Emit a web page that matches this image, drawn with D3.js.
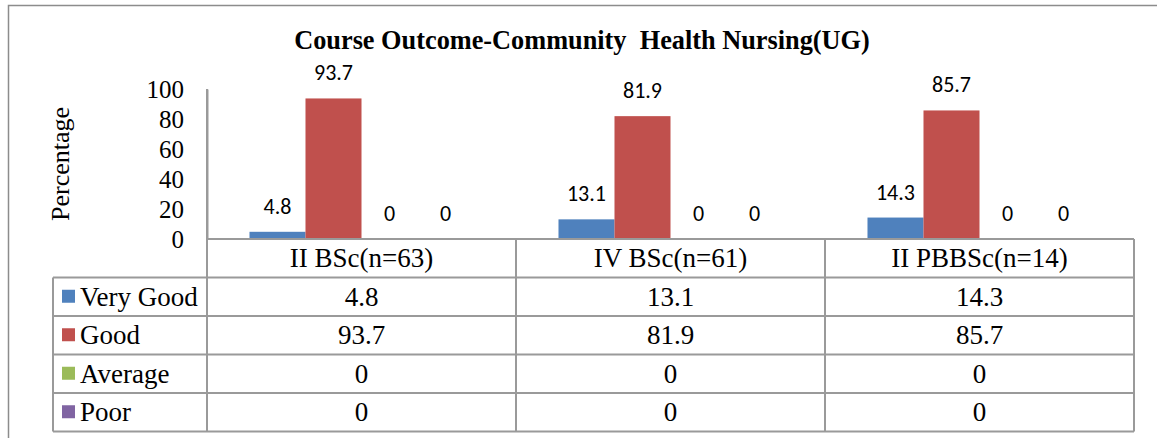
<!DOCTYPE html>
<html>
<head>
<meta charset="utf-8">
<script src="https://cdn.jsdelivr.net/npm/d3@7"></script>
<style>
  html, body { margin: 0; padding: 0; background: #fff; }
  svg { display: block; }
</style>
</head>
<body>
<svg id="chart" width="1157" height="438"></svg>
<script>
const categories = ["II BSc(n=63)", "IV BSc(n=61)", "II PBBSc(n=14)"];
const seriesNames = ["Very Good", "Good", "Average", "Poor"];
const veryGood = [4.8, 13.1, 14.3];
const good = [93.7, 81.9, 85.7];
const average = [0, 0, 0];
const poor = [0, 0, 0];
const yTicks = [0, 20, 40, 60, 80, 100];
const colors = ["#4F81BD", "#C0504D", "#9BBB59", "#8064A2"];

(function () {
const seriesValues = [veryGood, good, average, poor];
const data = categories.map((c, i) => ({
  cat: c,
  vals: seriesNames.map((s, j) => ({ series: s, value: seriesValues[j][i], color: colors[j] }))
}));

const svg = d3.select("#chart");
const serif = "'Liberation Serif', 'Times New Roman', serif";
const sans = "Carlito, 'Open Sans', sans-serif";
const gridCol = "#9a9a9a";

// outer border
svg.append("path")
  .attr("d", "M8.5,440 L8.5,5.5 L1160,5.5")
  .attr("fill", "none").attr("stroke", "#8c8c8c").attr("stroke-width", 1.5);

const pLeft = 207, pRight = 1134, pTop = 89, pBottom = 239;
const rowH = 38.5;
const tableLeft = 53;
const tableFont = 27;

const x0 = d3.scaleBand().domain(categories).range([pLeft, pRight]).paddingInner(0).paddingOuter(0);
const gap = x0.bandwidth() * 0.1375;
const x1 = d3.scaleBand().domain(seriesNames).range([gap, x0.bandwidth() - gap]).padding(0);
const y = d3.scaleLinear().domain([0, 100]).range([pBottom, pTop]);

// title
svg.append("text")
  .attr("x", 582).attr("y", 49)
  .attr("text-anchor", "middle")
  .attr("font-family", serif).attr("font-weight", "bold").attr("font-size", 26.3)
  .style("white-space", "pre")
  .text("Course Outcome-Community  Health Nursing(UG)");

// y axis label
svg.append("text")
  .attr("transform", "translate(69,164) rotate(-90)")
  .attr("text-anchor", "middle")
  .attr("font-family", serif).attr("font-size", 26)
  .text("Percentage");

// y axis
const yAxis = d3.axisLeft(y).tickValues(yTicks).tickSize(0).tickSizeOuter(0).tickPadding(23);
const gy = svg.append("g").attr("transform", `translate(${pLeft},0)`).call(yAxis);
gy.select(".domain").attr("stroke", gridCol).attr("stroke-width", 2);
gy.selectAll(".tick text").attr("font-family", serif).attr("font-size", 25).attr("fill", "#000");

// bars
const groups = svg.append("g").selectAll("g").data(data).join("g")
  .attr("transform", d => `translate(${x0(d.cat)},0)`);
groups.selectAll("rect").data(d => d.vals).join("rect")
  .attr("x", d => x1(d.series))
  .attr("width", x1.bandwidth())
  .attr("y", d => y(d.value))
  .attr("height", d => y(0) - y(d.value))
  .attr("fill", d => d.color);
groups.selectAll("text.lbl").data(d => d.vals).join("text")
  .attr("class", "lbl")
  .attr("x", d => x1(d.series) + x1.bandwidth() / 2)
  .attr("y", d => y(d.value) - 18)
  .attr("text-anchor", "middle")
  .attr("font-family", sans).attr("font-size", 22)
  .text(d => d.value);

// data table
const tbl = svg.append("g");
const rowTop = i => pBottom + rowH * i;
tbl.append("line").attr("x1", pLeft).attr("x2", pRight).attr("y1", pBottom).attr("y2", pBottom)
  .attr("stroke", gridCol).attr("stroke-width", 2);
for (let i = 1; i <= seriesNames.length + 1; i++) {
  tbl.append("line").attr("x1", tableLeft).attr("x2", pRight)
    .attr("y1", rowTop(i)).attr("y2", rowTop(i))
    .attr("stroke", gridCol).attr("stroke-width", 2);
}
tbl.append("line").attr("x1", tableLeft).attr("x2", tableLeft)
  .attr("y1", rowTop(1)).attr("y2", rowTop(seriesNames.length + 1))
  .attr("stroke", gridCol).attr("stroke-width", 2);
categories.forEach(c => {
  tbl.append("line").attr("x1", x0(c)).attr("x2", x0(c))
    .attr("y1", c === categories[0] ? pTop : pBottom).attr("y2", rowTop(seriesNames.length + 1))
    .attr("stroke", gridCol).attr("stroke-width", 2);
});
tbl.append("line").attr("x1", pRight).attr("x2", pRight)
  .attr("y1", pBottom).attr("y2", rowTop(seriesNames.length + 1))
  .attr("stroke", gridCol).attr("stroke-width", 2);

categories.forEach(c => {
  tbl.append("text")
    .attr("x", x0(c) + x0.bandwidth() / 2).attr("y", rowTop(0) + rowH / 2 + 9)
    .attr("text-anchor", "middle")
    .attr("font-family", serif).attr("font-size", tableFont)
    .text(c);
});
seriesNames.forEach((s, j) => {
  const cy = rowTop(j + 1) + rowH / 2;
  tbl.append("rect").attr("x", 62).attr("y", cy - 7).attr("width", 13).attr("height", 13)
    .attr("fill", colors[j]);
  tbl.append("text").attr("x", 80).attr("y", cy + 9)
    .attr("font-family", serif).attr("font-size", tableFont)
    .text(s);
  categories.forEach((c, i) => {
    tbl.append("text")
      .attr("x", x0(c) + x0.bandwidth() / 2).attr("y", cy + 9)
      .attr("text-anchor", "middle")
      .attr("font-family", serif).attr("font-size", tableFont)
      .text(seriesValues[j][i]);
  });
});
})();
</script>
</body>
</html>
